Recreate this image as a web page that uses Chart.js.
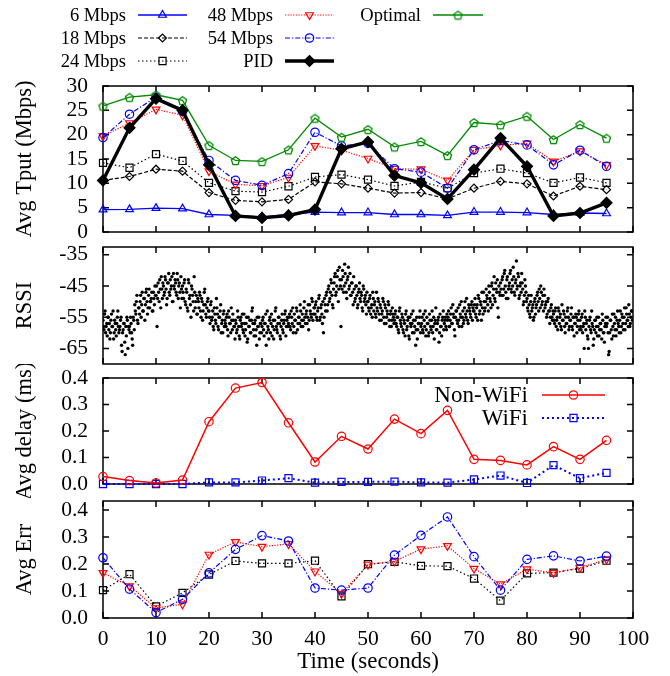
<!DOCTYPE html>
<html>
<head>
<meta charset="utf-8">
<script src="https://cdn.jsdelivr.net/npm/chart.js@4.4.0/dist/chart.umd.min.js"></script>
<style>
  body { margin: 0; background: #fff; }
  canvas { position: absolute; left: 0; }
</style>
</head>
<body>
<canvas id="c1" width="670" height="250" style="top:0px"></canvas>
<canvas id="c2" width="670" height="145" style="top:232px"></canvas>
<canvas id="c3" width="670" height="134" style="top:364px"></canvas>
<canvas id="c4" width="670" height="188" style="top:488px"></canvas>
<script>
// ---- data ----
const times = [0,5,10,15,20,25,30,35,40,45,50,55,60,65,70,75,80,85,90,95];
const xTicks = [0,10,20,30,40,50,60,70,80,90,100];

const tput6   = [4.6,4.65,4.9,4.8,3.6,3.4,3.1,3.6,4.1,4.0,4.0,3.6,3.6,3.4,4.1,4.1,4.0,3.6,3.9,3.8];
const tput18  = [10.6,11.4,12.9,12.5,8.1,6.5,6.2,6.7,10.3,9.9,9.0,8.0,8.1,6.8,9.0,10.4,9.9,7.4,9.4,8.7];
const tput24  = [14.2,13.2,16.0,14.6,10.1,8.4,8.2,9.4,11.3,11.8,10.75,9.45,10.3,9.0,12.1,13.0,12.1,10.1,11.2,10.1];
const tput48  = [19.7,22.4,25.2,24.0,12.5,9.8,9.5,11.2,17.7,16.8,15.1,13.0,12.9,10.6,16.9,17.8,18.2,14.5,16.6,13.8];
const tput54  = [19.4,24.2,27.7,24.8,14.7,10.6,9.6,12.0,20.5,17.7,18.2,13.0,12.3,9.0,16.9,18.8,17.9,13.8,16.8,13.5];
const tputPID = [10.6,21.4,27.4,25.0,13.8,3.3,2.9,3.4,4.6,17.1,18.5,11.6,10.1,6.8,12.8,19.3,13.5,3.3,3.9,6.0];
const tputOpt = [25.9,27.7,28.2,27.05,17.8,14.7,14.5,16.9,23.4,19.5,21.1,17.5,18.6,15.75,22.5,22.05,23.8,19.0,22.1,19.3];
const tputTicks = [0,5,10,15,20,25,30];

// RSSI samples: A at t = 0.0, 0.2, 0.4 ... and B at t = 0.1, 0.3, 0.5 ...
const rssiStep = 0.2;
const rssiValuesA = [
  -56,-59,-53,-58,-61,-55,-57,-60,-54,-58,-62,-56,-59,-57,-53,-60,-58,-55,-66,-59,-57,-67,-61,-56,-58,
  -58,-55,-60,-64,-56,-51,-54,-48,-57,-52,-50,-55,-47,-53,-49,-51,-46,-54,-48,-52,-50,-47,-53,-49,-45,
  -48,-58,-44,-50,-46,-42,-49,-45,-47,-43,-51,-44,-41,-48,-46,-42,-50,-45,-43,-47,-41,-49,-44,-52,-46,
  -45,-49,-43,-51,-47,-53,-44,-48,-55,-46,-50,-42,-52,-48,-54,-50,-47,-53,-49,-56,-51,-46,-54,-52,-49,
  -53,-57,-50,-55,-58,-52,-56,-49,-54,-59,-55,-51,-57,-60,-53,-56,-58,-54,-61,-55,-57,-52,-59,-56,-58,
  -56,-60,-53,-58,-62,-55,-57,-59,-54,-61,-57,-63,-55,-58,-60,-56,-52,-59,-57,-61,-64,-58,-55,-60,-57,
  -58,-55,-61,-57,-64,-53,-59,-56,-60,-54,-58,-62,-56,-52,-59,-57,-55,-61,-58,-54,-60,-56,-53,-58,-55,
  -57,-54,-59,-55,-52,-58,-56,-60,-53,-57,-55,-51,-58,-54,-56,-50,-57,-53,-55,-59,-51,-54,-49,-56,-52,
  -54,-50,-56,-52,-48,-55,-51,-57,-60,-49,-53,-47,-51,-45,-49,-43,-48,-52,-44,-41,-47,-42,-50,-39,-45,
  -43,-40,-47,-38,-44,-49,-42,-46,-41,-48,-44,-51,-46,-49,-45,-52,-47,-44,-50,-48,-53,-46,-49,-51,-47,
  -50,-53,-48,-52,-55,-49,-51,-54,-47,-53,-50,-56,-52,-54,-49,-55,-51,-57,-53,-50,-56,-54,-58,-52,-55,
  -56,-53,-58,-55,-60,-52,-57,-54,-59,-56,-61,-53,-58,-55,-62,-57,-54,-60,-56,-58,-64,-55,-59,-57,-53,
  -58,-55,-60,-56,-53,-59,-57,-61,-54,-58,-56,-60,-55,-57,-52,-59,-56,-63,-54,-58,-56,-53,-57,-55,-59,
  -56,-53,-58,-54,-57,-51,-55,-61,-53,-56,-52,-58,-54,-50,-55,-57,-52,-54,-49,-56,-51,-53,-55,-50,-52,
  -53,-49,-55,-51,-48,-54,-50,-56,-52,-47,-53,-50,-48,-51,-45,-49,-52,-44,-48,-42,-50,-46,-43,-55,-47,
  -44,-48,-42,-46,-40,-47,-43,-49,-45,-41,-46,-43,-39,-47,-44,-37,-45,-42,-48,-44,-41,-46,-50,-43,-47,
  -49,-53,-51,-55,-48,-52,-56,-50,-54,-51,-47,-53,-49,-45,-51,-48,-46,-52,-50,-54,-49,-53,-55,-51,-56,
  -54,-57,-52,-56,-59,-53,-55,-58,-51,-56,-54,-60,-57,-53,-55,-58,-56,-52,-59,-55,-57,-54,-60,-56,-53,
  -56,-59,-54,-58,-65,-55,-57,-61,-65,-56,-59,-53,-58,-62,-56,-60,-55,-58,-61,-57,-59,-54,-60,-63,-57,
  -58,-55,-67,-60,-56,-62,-58,-54,-59,-61,-56,-57,-60,-53,-58,-55,-59,-52,-57,-54,-56,-51,-58,-55,-53
];
const rssiValuesB = [
  -58,-54,-60,-57,-55,-59,-62,-56,-58,-53,-60,-57,-61,-55,-58,-59,-56,-64,-60,-57,-63,-58,-55,-65,-59,
  -60,-57,-62,-55,-59,-53,-50,-56,-52,-54,-48,-51,-53,-49,-56,-47,-50,-52,-46,-50,-49,-53,-47,-51,-48,
  -45,-49,-47,-43,-52,-46,-44,-48,-42,-46,-49,-44,-47,-43,-45,-50,-41,-46,-44,-48,-43,-45,-47,-42,-49,
  -47,-44,-50,-46,-52,-43,-49,-51,-45,-48,-53,-47,-50,-54,-49,-52,-48,-55,-50,-53,-47,-51,-55,-50,-53,
  -55,-51,-56,-53,-59,-54,-57,-52,-58,-55,-53,-60,-56,-54,-58,-57,-55,-59,-53,-57,-60,-56,-54,-58,-62,
  -57,-59,-55,-61,-56,-58,-54,-60,-57,-59,-55,-62,-58,-56,-60,-53,-57,-61,-56,-59,-55,-58,-62,-57,-60,
  -56,-59,-57,-54,-60,-58,-62,-55,-57,-61,-56,-59,-53,-58,-60,-55,-57,-62,-56,-59,-57,-54,-61,-56,-58,
  -55,-58,-53,-57,-60,-54,-56,-52,-59,-55,-57,-53,-56,-58,-52,-55,-54,-57,-51,-56,-53,-55,-50,-54,-52,
  -51,-55,-53,-49,-56,-52,-54,-50,-55,-51,-48,-53,-46,-50,-47,-44,-51,-46,-42,-48,-45,-40,-46,-43,-58,
  -46,-42,-45,-41,-47,-43,-39,-45,-48,-44,-47,-42,-50,-45,-48,-51,-46,-49,-47,-52,-45,-50,-48,-54,-50,
  -52,-49,-54,-51,-47,-53,-50,-55,-52,-49,-54,-51,-56,-53,-50,-57,-52,-55,-54,-51,-58,-53,-56,-54,-57,
  -54,-57,-55,-59,-53,-56,-58,-55,-60,-57,-54,-59,-56,-61,-55,-58,-57,-53,-60,-56,-59,-62,-57,-55,-60,
  -57,-59,-54,-58,-61,-55,-57,-60,-56,-59,-53,-58,-62,-56,-59,-57,-55,-60,-58,-61,-55,-59,-56,-58,-54,
  -55,-58,-56,-52,-57,-54,-59,-55,-53,-57,-56,-51,-55,-58,-53,-56,-50,-55,-53,-57,-52,-54,-51,-56,-53,
  -51,-54,-52,-56,-49,-53,-51,-47,-54,-50,-52,-46,-49,-53,-47,-50,-45,-51,-46,-49,-44,-47,-52,-45,-48,
  -46,-43,-48,-41,-45,-49,-42,-46,-44,-40,-47,-45,-42,-48,-43,-46,-41,-49,-45,-47,-44,-51,-48,-45,-50,
  -52,-48,-54,-50,-53,-51,-55,-49,-52,-48,-50,-46,-52,-47,-50,-53,-48,-51,-55,-50,-53,-57,-52,-55,-53,
  -56,-53,-58,-55,-52,-57,-54,-59,-56,-53,-58,-55,-57,-52,-59,-56,-54,-58,-55,-61,-57,-55,-58,-54,-59,
  -58,-55,-60,-57,-53,-59,-56,-62,-58,-55,-60,-57,-64,-59,-56,-58,-61,-55,-59,-57,-62,-56,-60,-58,-55,
  -57,-60,-66,-56,-59,-54,-61,-57,-55,-59,-53,-58,-56,-60,-54,-57,-55,-59,-52,-56,-58,-54,-57,-53,-56
];
const rssiTicks = [-65,-55,-45,-35];

const delayNonWifi = [0.028,0.013,0.004,0.015,0.235,0.362,0.383,0.231,0.083,0.180,0.132,0.245,0.19,0.278,0.093,0.089,0.072,0.141,0.093,0.165];
const delayWifi    = [0.0,0.0,0.0,0.0,0.006,0.006,0.013,0.022,0.005,0.008,0.008,0.009,0.006,0.005,0.017,0.032,0.004,0.071,0.022,0.042];
const delayTicks = [0,0.1,0.2,0.3,0.4];

const errBlue  = [0.223,0.107,0.02,0.069,0.167,0.254,0.305,0.285,0.111,0.103,0.111,0.233,0.306,0.374,0.227,0.103,0.217,0.230,0.211,0.229];
const errRed   = [0.167,0.118,0.037,0.051,0.235,0.282,0.264,0.274,0.173,0.09,0.198,0.21,0.255,0.267,0.183,0.125,0.181,0.167,0.186,0.217];
const errBlack = [0.103,0.162,0.043,0.093,0.161,0.211,0.202,0.202,0.212,0.08,0.199,0.208,0.193,0.192,0.146,0.064,0.165,0.168,0.183,0.212];
const errTicks = [0,0.1,0.2,0.3,0.4];

// ---- styling ----
const SERIF = '"Liberation Serif", "DejaVu Serif", serif';
Chart.defaults.font.family = SERIF;
Chart.defaults.color = '#000';
const BLUE = '#0000ff', RED = '#ff0000', GREEN = '#008a00', BLACK = '#000';
const NONE = 'rgba(0,0,0,0)';
const PLOT_L = 103;

function pentagon(r, color) {
  const s = Math.ceil(2 * r + 4);
  const c = document.createElement('canvas');
  c.width = c.height = s;
  const g = c.getContext('2d');
  g.strokeStyle = color; g.lineWidth = 1.3;
  g.beginPath();
  for (let i = 0; i < 5; i++) {
    const a = -Math.PI / 2 + i * 2 * Math.PI / 5;
    const px = s / 2 + r * Math.cos(a), py = s / 2 + r * Math.sin(a) + 0.6;
    if (i) g.lineTo(px, py); else g.moveTo(px, py);
  }
  g.closePath(); g.stroke();
  return c;
}

function pts(ys) { return times.map((t, i) => ({x: t, y: ys[i]})); }

function series(label, ys, color, dash, width, style, radius, extra) {
  return Object.assign({
    label: label, data: pts(ys),
    borderColor: color, borderWidth: width, borderDash: dash,
    pointStyle: style, pointRadius: radius, pointBorderColor: color,
    pointBackgroundColor: NONE, pointBorderWidth: 1.2,
    tension: 0, clip: false
  }, extra || {});
}

// gnuplot style box with inward ticks on all four sides
const frame = {
  id: 'frame',
  beforeDatasetsDraw(chart) {
    const {ctx, chartArea: a, scales: {x, y}} = chart;
    ctx.save();
    ctx.strokeStyle = BLACK; ctx.lineWidth = 1.5; ctx.setLineDash([]);
    ctx.strokeRect(a.left, a.top, a.right - a.left, a.bottom - a.top);
    ctx.beginPath();
    xTicks.forEach(v => {
      const px = x.getPixelForValue(v);
      ctx.moveTo(px, a.bottom); ctx.lineTo(px, a.bottom - 6);
      ctx.moveTo(px, a.top); ctx.lineTo(px, a.top + 6);
    });
    y.ticks.forEach(t => {
      const py = y.getPixelForValue(t.value);
      ctx.moveTo(a.left, py); ctx.lineTo(a.left + 6, py);
      ctx.moveTo(a.right, py); ctx.lineTo(a.right - 6, py);
    });
    ctx.stroke();
    ctx.restore();
  }
};

// legend: text right-aligned, then line sample with marker
const gpLegend = {
  id: 'gpLegend',
  afterDraw(chart, args, opts) {
    const ctx = chart.ctx;
    (opts.items || []).forEach(it => {
      const ds = chart.data.datasets[it.ds];
      ctx.save();
      ctx.font = (opts.size || 19) + 'px ' + SERIF;
      ctx.fillStyle = BLACK; ctx.textAlign = 'right'; ctx.textBaseline = 'middle';
      ctx.fillText(ds.label, it.tx, it.y + 1);
      ctx.strokeStyle = ds.borderColor; ctx.lineWidth = ds.borderWidth;
      ctx.setLineDash(ds.borderDash || []);
      ctx.beginPath(); ctx.moveTo(it.x0, it.y); ctx.lineTo(it.x1, it.y); ctx.stroke();
      ctx.setLineDash([]);
      ctx.strokeStyle = ds.pointBorderColor; ctx.fillStyle = ds.pointBackgroundColor;
      ctx.lineWidth = ds.pointBorderWidth;
      Chart.helpers.drawPoint(ctx, {
        pointStyle: ds.pointStyle, rotation: ds.pointRotation || 0,
        radius: ds.pointRadius, borderWidth: ds.pointBorderWidth
      }, (it.x0 + it.x1) / 2, it.y);
      ctx.restore();
    });
  }
};
Chart.register(frame, gpLegend);

function xScale(show) {
  const s = {
    type: 'linear', min: 0, max: 100, display: show,
    afterBuildTicks: sc => { sc.ticks = xTicks.map(v => ({value: v})); },
    grid: {display: false, drawTicks: false}, border: {display: false},
    ticks: {padding: 8, font: {size: 21.5}, maxRotation: 0, autoSkip: false},
    title: {display: show, text: 'Time (seconds)', font: {size: 23}, padding: {top: 0, bottom: 0}}
  };
  if (show) s.afterFit = sc => { sc.height = 58; sc.paddingLeft = 0; sc.paddingRight = 0; };
  return s;
}

function yScale(min, max, ticks, title, fmt) {
  return {
    type: 'linear', min: min, max: max,
    afterBuildTicks: s => { s.ticks = ticks.map(v => ({value: v})); },
    grid: {display: false, drawTicks: false}, border: {display: false},
    ticks: {padding: 15, font: {size: 21.5}, callback: fmt, autoSkip: false},
    title: {display: true, text: title, font: {size: 22.5}, padding: {top: 12, bottom: 0}},
    afterFit: s => { s.width = PLOT_L; s.paddingTop = 0; s.paddingBottom = 0; }
  };
}

function options(padTop, padBottom, showX, y, legendItems, legendSize) {
  return {
    responsive: false, animation: false, devicePixelRatio: 1,
    layout: {padding: {left: 0, right: 37, top: padTop, bottom: padBottom}},
    plugins: {legend: {display: false}, tooltip: {enabled: false},
              gpLegend: {items: legendItems || [], size: legendSize || 19}},
    scales: {x: xScale(showX), y: y}
  };
}

const int = v => String(v);
const one = v => v.toFixed(1);

// ---- panel 1: throughput ----
const t6 = series('6 Mbps', tput6, BLUE, [], 1.3, 'triangle', 4.5);
const t18 = series('18 Mbps', tput18, BLACK, [4, 2], 1.2, 'rectRot', 4);
const t24 = series('24 Mbps', tput24, BLACK, [1.5, 2.5], 1.2, 'rect', 5);
const t48 = series('48 Mbps', tput48, RED, [1.2, 1.5], 1.2, 'triangle', 4.5, {pointRotation: 180});
const t54 = series('54 Mbps', tput54, BLUE, [5, 2, 1.2, 2], 1.2, 'circle', 4.2);
const tPid = series('PID', tputPID, BLACK, [], 3.4, 'rectRot', 5.5, {pointBackgroundColor: BLACK});
const tOpt = series('Optimal', tputOpt, GREEN, [], 1.3, pentagon(4.3, GREEN), 5);

new Chart(document.getElementById('c1'), {
  type: 'line',
  data: {datasets: [tPid, tOpt, t54, t48, t24, t18, t6]},
  options: options(86, 18, false, yScale(0, 30, tputTicks, 'Avg Tput (Mbps)', int), [
    {ds: 6, tx: 126, x0: 138, x1: 187, y: 15},
    {ds: 5, tx: 126, x0: 138, x1: 187, y: 38},
    {ds: 4, tx: 126, x0: 138, x1: 187, y: 61},
    {ds: 3, tx: 273, x0: 285, x1: 334, y: 15},
    {ds: 2, tx: 273, x0: 285, x1: 334, y: 38},
    {ds: 0, tx: 273, x0: 285, x1: 334, y: 61},
    {ds: 1, tx: 421, x0: 433, x1: 483, y: 15}
  ], 18.5)
});

// ---- panel 2: RSSI ----
const rssiPoints = rssiValuesA.map((v, i) => ({x: i * rssiStep, y: v}))
  .concat(rssiValuesB.map((v, i) => ({x: 0.1 + i * rssiStep, y: v})));
new Chart(document.getElementById('c2'), {
  type: 'line',
  data: {datasets: [{
    label: 'RSSI', data: rssiPoints,
    showLine: false, pointStyle: 'circle', pointRadius: 1.7,
    pointBackgroundColor: BLACK, pointBorderWidth: 0, borderColor: BLACK
  }]},
  options: options(15, 13, false, yScale(-70, -32.5, rssiTicks, 'RSSI', int))
});

// ---- panel 3: delay ----
const dNon = series('Non-WiFi', delayNonWifi, RED, [], 1.5, 'circle', 4.2);
const dWifi = series('WiFi', delayWifi, BLUE, [2, 3], 2, 'rect', 5);
new Chart(document.getElementById('c3'), {
  type: 'line',
  data: {datasets: [dNon, dWifi]},
  options: options(14, 14, false, yScale(0, 0.4, delayTicks, 'Avg delay (ms)', one), [
    {ds: 0, tx: 528, x0: 542, x1: 605, y: 31},
    {ds: 1, tx: 528, x0: 542, x1: 605, y: 54}
  ], 23)
});

// ---- panel 4: error ----
const eBlue = series('54 Mbps', errBlue, BLUE, [5, 2, 1.2, 2], 1.2, 'circle', 4.2);
const eRed = series('48 Mbps', errRed, RED, [1.2, 1.5], 1.2, 'triangle', 4.5, {pointRotation: 180});
const eBlack = series('24 Mbps', errBlack, BLACK, [1.5, 2.5], 1.2, 'rect', 5);
new Chart(document.getElementById('c4'), {
  type: 'line',
  data: {datasets: [eBlue, eRed, eBlack]},
  options: options(13, 0, true, yScale(0, 0.433, errTicks, 'Avg Err', one))
});
</script>
</body>
</html>
